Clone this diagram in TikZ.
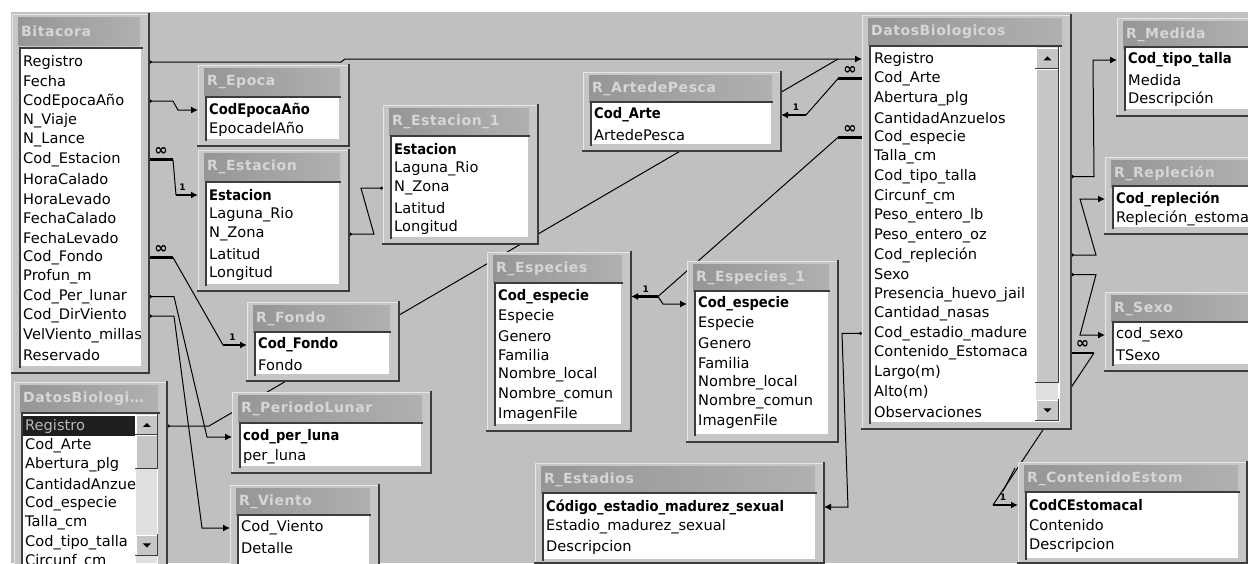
\documentclass[tikz,border=0pt]{standalone}
\usepackage{fontspec}
\setmainfont{DejaVu Sans}
\newfontfamily\titlefont[LetterSpace=4]{DejaVu Sans}
\usepackage{graphicx}
\usetikzlibrary{arrows.meta,calc}

\pgfdeclarelayer{canvaslayer}
\pgfdeclarelayer{wires}
\pgfsetlayers{canvaslayer,wires,main}

\definecolor{bggray}{HTML}{C0C0C0}
\definecolor{framegray}{HTML}{C6C6C6}
\definecolor{frameedge}{HTML}{E6E6E6}
\definecolor{shadowgray}{HTML}{3C3C3C}
\definecolor{titledark}{HTML}{969696}
\definecolor{titlelight}{HTML}{B0B0B0}
\definecolor{titleink}{HTML}{D6D6D6}
\definecolor{trackgray}{HTML}{E0E0E0}
\definecolor{hilite}{HTML}{B8B8B8}

\newcommand{\keyf}[1]{\scalebox{0.9}[1]{\bfseries #1}}

\tikzset{
  shadowline/.style={draw=shadowgray, line width=2.2pt, line cap=rect},
  insetline/.style={draw=shadowgray, line width=1.6pt, line cap=rect},
  btnshadow/.style={draw=shadowgray, line width=1.2pt, line cap=rect},
  tablebox/.style={anchor=north west, inner sep=0pt, fill=framegray, draw=frameedge, line width=1pt,
    append after command={(\tikzlastnode.north east) edge[shadowline] (\tikzlastnode.south east)
                          (\tikzlastnode.south east) edge[shadowline] (\tikzlastnode.south west)}},
  titlebar/.style={anchor=north west, inner xsep=3pt, inner ysep=0pt, minimum height=27pt,
    left color=titledark, right color=titlelight, text=titleink, align=left,
    font=\titlefont\bfseries\fontsize{14}{14}\selectfont},
  listbox/.style={anchor=north west, inner sep=0pt, fill=white, draw=gray!45, line width=0.8pt,
    append after command={(\tikzlastnode.south west) edge[insetline] (\tikzlastnode.north west)
                          (\tikzlastnode.north west) edge[insetline] (\tikzlastnode.north east)}},
  scrollbtn/.style={anchor=north west, inner sep=0pt, fill=framegray, draw=white, line width=0.8pt,
    append after command={(\tikzlastnode.north east) edge[btnshadow] (\tikzlastnode.south east)
                          (\tikzlastnode.south east) edge[btnshadow] (\tikzlastnode.south west)}},
  field/.style={anchor=west, inner sep=0pt, font=\fontsize{14.6}{15}\selectfont},
  rel/.style={draw=black, line width=1pt},
  stub/.style={draw=black, line width=2.6pt},
  arrowend/.style={-{Latex[length=7pt,width=7pt]}},
  dotarrow/.style={{Circle[length=3pt]}-{Latex[length=7pt,width=7pt]}},
  dotdot/.style={{Circle[length=3pt]}-{Circle[length=3pt]}},
  dotend/.style={{Circle[length=3pt]}-},
  manylabel/.style={font=\bfseries\fontsize{16}{16}\selectfont, inner sep=0pt, above=3pt},
  onelabel/.style={font=\bfseries\fontsize{9}{9}\selectfont, inner sep=0pt, above=3pt},
}

\begin{document}
\begin{tikzpicture}[x=1pt,y=-1pt]
\useasboundingbox (0,0) rectangle (1248,563);
\begin{pgfonlayer}{canvaslayer}
  \fill[white] (0,0) rectangle (1248,563);
  \fill[bggray] (11,12) rectangle (1248,563);
\end{pgfonlayer}

% Bitacora
\node[tablebox, minimum width=136pt, minimum height=358pt] (bitacora) at (12,14) {};
\node[titlebar, text width=116pt, minimum height=28pt] at (18,17) {Bitacora};
\node[listbox, minimum width=121pt, minimum height=318pt] (bitacoraL) at (20,48) {};
\begin{scope}
  \clip (bitacoraL.north west) rectangle (bitacoraL.south east);
  \foreach \f [count=\i] in {Registro,Fecha,CodEpocaAño,N\_Viaje,N\_Lance,Cod\_Estacion,HoraCalado,HoraLevado,FechaCalado,FechaLevado,Cod\_Fondo,Profun\_m,Cod\_Per\_lunar,Cod\_DirViento,VelViento\_millas,Reservado}
    \node[field] (bit\i) at (23,{62+19.55*(\i-1)}) {\f};
\end{scope}

% R_Epoca
\node[tablebox, minimum width=150pt, minimum height=80pt] (epoca) at (198,65) {};
\node[titlebar, text width=130pt] at (204,68) {R\_Epoca};
\node[listbox, minimum width=133pt, minimum height=42pt] (epocaL) at (206,97) {};
\begin{scope}
  \clip (epocaL.north west) rectangle (epocaL.south east);
  \foreach \f [count=\i] in {\keyf{CodEpocaAño},EpocadelAño}
    \node[field] (epo\i) at (209,{110+19.6*(\i-1)}) {\f};
\end{scope}

% R_Estacion
\node[tablebox, minimum width=150pt, minimum height=140pt] (estacion) at (198,150) {};
\node[titlebar, text width=130pt] at (204,153) {R\_Estacion};
\node[listbox, minimum width=133pt, minimum height=102pt] (estacionL) at (206,182) {};
\begin{scope}
  \clip (estacionL.north west) rectangle (estacionL.south east);
  \foreach \f [count=\i] in {\keyf{Estacion},Laguna\_Rio,N\_Zona,Latitud,Longitud}
    \node[field] (est\i) at (209,{195+19.6*(\i-1)}) {\f};
\end{scope}

% R_Estacion_1
\node[tablebox, minimum width=154pt, minimum height=138pt] (estacionB) at (383,105) {};
\node[titlebar, text width=134pt] at (389,108) {R\_Estacion\_1};
\node[listbox, minimum width=137pt, minimum height=101pt] (estacionBL) at (391,136) {};
\begin{scope}
  \clip (estacionBL.north west) rectangle (estacionBL.south east);
  \foreach \f [count=\i] in {\keyf{Estacion},Laguna\_Rio,N\_Zona,Latitud,Longitud}
    \node[field] (estb\i) at (394,{149+19.6*(\i-1)}) {\f};
\end{scope}

% R_ArtedePesca
\node[tablebox, minimum width=197pt, minimum height=78pt] (arte) at (583,72) {};
\node[titlebar, text width=177pt] at (589,75) {R\_ArtedePesca};
\node[listbox, minimum width=180pt, minimum height=42pt] (arteL) at (591,102) {};
\begin{scope}
  \clip (arteL.north west) rectangle (arteL.south east);
  \foreach \f [count=\i] in {\keyf{Cod\_Arte},ArtedePesca}
    \node[field] (art\i) at (594,{115+19.6*(\i-1)}) {\f};
\end{scope}

% R_Fondo
\node[tablebox, minimum width=151pt, minimum height=78pt] (fondo) at (247,302) {};
\node[titlebar, text width=131pt] at (253,305) {R\_Fondo};
\node[listbox, minimum width=134pt, minimum height=42pt] (fondoL) at (255,332) {};
\begin{scope}
  \clip (fondoL.north west) rectangle (fondoL.south east);
  \foreach \f [count=\i] in {\keyf{Cod\_Fondo},Fondo}
    \node[field] (fon\i) at (258,{345+19.6*(\i-1)}) {\f};
\end{scope}

% R_PeriodoLunar
\node[tablebox, minimum width=198pt, minimum height=80pt] (lunar) at (232,392) {};
\node[titlebar, text width=178pt] at (238,395) {R\_PeriodoLunar};
\node[listbox, minimum width=181pt, minimum height=43pt] (lunarL) at (240,423) {};
\begin{scope}
  \clip (lunarL.north west) rectangle (lunarL.south east);
  \foreach \f [count=\i] in {\keyf{cod\_per\_luna},per\_luna}
    \node[field] (lun\i) at (243,{437+19.6*(\i-1)}) {\f};
\end{scope}

% R_Viento
\node[tablebox, minimum width=148pt, minimum height=85pt] (viento) at (230,485) {};
\node[titlebar, text width=128pt] at (236,488) {R\_Viento};
\node[listbox, minimum width=131pt, minimum height=50pt] (vientoL) at (238,515) {};
\begin{scope}
  \clip (vientoL.north west) rectangle (vientoL.south east);
  \foreach \f [count=\i] in {Cod\_Viento,Detalle}
    \node[field] (vie\i) at (241,{528+19.6*(\i-1)}) {\f};
\end{scope}

% DatosBiologicos_1 (small copy)
\node[tablebox, minimum width=152pt, minimum height=190pt] (datosB) at (14,382) {};
\node[titlebar, text width=132pt] at (20,385) {DatosBiologi…};
\node[listbox, minimum width=136pt, minimum height=155pt] (datosBL) at (22,413) {};
\fill[black!88] (23,416) rectangle (135,436);
\begin{scope}
  \clip (datosBL.north west) rectangle (datosBL.south east);
  \foreach \f [count=\i] in {\textcolor{hilite}{Registro},Cod\_Arte,Abertura\_plg,CantidadAnzuelos,Cod\_especie,Talla\_cm,Cod\_tipo\_talla,Circunf\_cm}
    \node[field] (dbs\i) at (25,{426+19.4*(\i-1)}) {\f};
\end{scope}
\fill[trackgray] (136,414) rectangle (157,563);
\node[scrollbtn, minimum width=21pt, minimum height=19pt] (dbsUp) at (136,415) {};
\node[scrollbtn, minimum width=21pt, minimum height=33pt] (dbsThumb) at (136,435) {};
\node[scrollbtn, minimum width=21pt, minimum height=20pt] (dbsDown) at (136,535) {};
\fill (dbsUp.center) ++(-4,2) -- ++(8,0) -- ++(-4,-4) -- cycle;
\fill (dbsDown.center) ++(-4,-2) -- ++(8,0) -- ++(-4,4) -- cycle;

% R_Especies
\node[tablebox, minimum width=143pt, minimum height=178pt] (especies) at (487,252) {};
\node[titlebar, text width=123pt] at (493,255) {R\_Especies};
\node[listbox, minimum width=126pt, minimum height=141pt] (especiesL) at (495,283) {};
\begin{scope}
  \clip (especiesL.north west) rectangle (especiesL.south east);
  \foreach \f [count=\i] in {\keyf{Cod\_especie},Especie,Genero,Familia,Nombre\_local,Nombre\_comun,ImagenFile}
    \node[field] (esp\i) at (498,{296.5+19.6*(\i-1)}) {\f};
\end{scope}

% R_Especies_1
\node[tablebox, minimum width=150pt, minimum height=180pt] (especiesB) at (687,261) {};
\node[titlebar, text width=130pt] at (693,264) {R\_Especies\_1};
\node[listbox, minimum width=133pt, minimum height=143pt] (especiesBL) at (695,291) {};
\begin{scope}
  \clip (especiesBL.north west) rectangle (especiesBL.south east);
  \foreach \f [count=\i] in {\keyf{Cod\_especie},Especie,Genero,Familia,Nombre\_local,Nombre\_comun,ImagenFile}
    \node[field] (espb\i) at (698,{304+19.6*(\i-1)}) {\f};
\end{scope}

% R_Estadios
\node[tablebox, minimum width=288pt, minimum height=99pt] (estadios) at (535,463) {};
\node[titlebar, text width=268pt] at (541,466) {R\_Estadios};
\node[listbox, minimum width=272pt, minimum height=66pt] (estadiosL) at (543,493) {};
\begin{scope}
  \clip (estadiosL.north west) rectangle (estadiosL.south east);
  \foreach \f [count=\i] in {\keyf{Código\_estadio\_madurez\_sexual},Estadio\_madurez\_sexual,Descripcion}
    \node[field] (eta\i) at (546,{507+20*(\i-1)}) {\f};
\end{scope}

% DatosBiologicos
\node[tablebox, minimum width=208pt, minimum height=413pt] (datos) at (862,15) {};
\node[titlebar, text width=188pt] at (868,18) {DatosBiologicos};
\node[listbox, minimum width=190pt, minimum height=376pt] (datosL) at (870,46) {};
\begin{scope}
  \clip (datosL.north west) rectangle (datosL.south east);
  \foreach \f [count=\i] in {Registro,Cod\_Arte,Abertura\_plg,CantidadAnzuelos,Cod\_especie,Talla\_cm,Cod\_tipo\_talla,Circunf\_cm,Peso\_entero\_lb,Peso\_entero\_oz,Cod\_repleción,Sexo,Presencia\_huevo\_jail,Cantidad\_nasas,Cod\_estadio\_madure,Contenido\_Estomaca,Largo(m),Alto(m),Observaciones}
    \node[field] (dat\i) at (874,{59+19.6*(\i-1)}) {\f};
\end{scope}
\fill[trackgray] (1036,47) rectangle (1058,421);
\node[scrollbtn, minimum width=22pt, minimum height=20pt] (datUp) at (1036,48) {};
\node[scrollbtn, minimum width=22pt, minimum height=313pt] (datThumb) at (1036,69) {};
\node[scrollbtn, minimum width=22pt, minimum height=20pt] (datDown) at (1036,400) {};
\fill (datUp.center) ++(-4,2) -- ++(8,0) -- ++(-4,-4) -- cycle;
\fill (datDown.center) ++(-4,-2) -- ++(8,0) -- ++(-4,4) -- cycle;

% R_Medida
\node[tablebox, minimum width=143pt, minimum height=97pt] (medida) at (1117,18) {};
\node[titlebar, text width=123pt] at (1123,21) {R\_Medida};
\node[listbox, minimum width=126pt, minimum height=62pt] (medidaL) at (1125,47) {};
\begin{scope}
  \clip (medidaL.north west) rectangle (medidaL.south east);
  \foreach \f [count=\i] in {\keyf{Cod\_tipo\_talla},Medida,Descripción}
    \node[field] (med\i) at (1128,{60+19.6*(\i-1)}) {\f};
\end{scope}

% R_Replecion
\node[tablebox, minimum width=155pt, minimum height=76pt] (replecion) at (1105,157) {};
\node[titlebar, text width=135pt] at (1111,160) {R\_Repleción};
\node[listbox, minimum width=138pt, minimum height=41pt] (replecionL) at (1113,186) {};
\begin{scope}
  \clip (replecionL.north west) rectangle (replecionL.south east);
  \foreach \f [count=\i] in {\keyf{Cod\_repleción},Repleción\_estoma}
    \node[field] (rep\i) at (1116,{199+19.5*(\i-1)}) {\f};
\end{scope}

% R_Sexo
\node[tablebox, minimum width=155pt, minimum height=78pt] (sexo) at (1105,292) {};
\node[titlebar, text width=135pt] at (1111,295) {R\_Sexo};
\node[listbox, minimum width=138pt, minimum height=42pt] (sexoL) at (1113,322) {};
\begin{scope}
  \clip (sexoL.north west) rectangle (sexoL.south east);
  \foreach \f [count=\i] in {cod\_sexo,TSexo}
    \node[field] (sex\i) at (1116,{335+20*(\i-1)}) {\f};
\end{scope}

% R_ContenidoEstom
\node[tablebox, minimum width=228pt, minimum height=100pt] (contenido) at (1018,462) {};
\node[titlebar, text width=208pt] at (1024,465) {R\_ContenidoEstom};
\node[listbox, minimum width=212pt, minimum height=66pt] (contenidoL) at (1026,492) {};
\begin{scope}
  \clip (contenidoL.north west) rectangle (contenidoL.south east);
  \foreach \f [count=\i] in {\keyf{CodCEstomacal},Contenido,Descripcion}
    \node[field] (con\i) at (1029,{505+20*(\i-1)}) {\f};
\end{scope}

% relationships, behind the tables
\begin{pgfonlayer}{wires}
\draw[rel, dotarrow] (bit1 -| bitacora.east) -- ++(192,0) -- ++(4,-3) -- (dat1 -| datos.west);
\draw[rel, dotend] (dbs1 -| datosB.east) -- ++(42,0) -- ($(dat1 -| datos.west)+(-24,0)$);
\draw[rel, dotarrow] (bit3 -| bitacora.east) -- ++(24,0) -- ++(5,9) -- (epo1 -| epoca.west);

\draw[stub] (bit6 -| bitacora.east) -- ++(24,0) node[midway, manylabel] {∞} coordinate (estA);
\draw[stub, arrowend] ($(est1 -| estacion.west)+(-22,0)$) coordinate (estB) -- (est1 -| estacion.west) node[pos=0.3, onelabel] {1};
\draw[rel] (estA) -- (estB);

\draw[stub] (bit11 -| bitacora.east) -- ++(24,0) node[midway, manylabel] {∞} coordinate (fonA);
\draw[stub, arrowend] ($(fon1 -| fondo.west)+(-24,0)$) coordinate (fonB) -- (fon1 -| fondo.west) node[pos=0.4, onelabel] {1};
\draw[rel] (fonA) -- (fonB);

\draw[rel, dotarrow] (bit13 -| bitacora.east) -- ++(25,0) -- ($(lun1 -| lunar.west)+(-25,0)$) -- (lun1 -| lunar.west);
\draw[rel, dotarrow] (bit14 -| bitacora.east) -- ++(25,0) -- ($(vie1 -| viento.west)+(-28,0)$) -- (vie1 -| viento.west);
\draw[rel, dotdot] (est3 -| estacion.east) -- ++(25,0) -- ($(estb3 -| estacionB.west)+(-22,0)$) -- (estb3 -| estacionB.west);

\draw[stub] (dat2 -| datos.west) -- ++(-24,0) node[midway, manylabel] {∞} coordinate (artA);
\draw[stub, arrowend] ($(art1 -| arte.east)+(25,0)$) coordinate (artB) -- (art1 -| arte.east) node[pos=0.4, onelabel] {1};
\draw[rel] (artA) -- (artB);

\draw[stub] (dat5 -| datos.west) -- ++(-24,0) node[midway, manylabel] {∞} coordinate (espA);
\draw[stub, arrowend] ($(esp1 -| especies.east)+(27,0)$) coordinate (espB) -- (esp1 -| especies.east) node[pos=0.45, onelabel] {1};
\draw[rel] (espA) -- (espB);
\draw[rel, arrowend] (espB) -- ++(5,7.5) -- (espb1 -| especiesB.west);

\draw[rel, dotarrow] (dat15 -| datos.west) -- ++(-20,0) -- ($(eta1 -| estadios.east)+(24,0)$) -- (eta1 -| estadios.east);
\draw[rel, dotarrow] (dat7 -| datos.east) -- ++(23,0) -- ($(med1 -| medida.west)+(-24,0)$) -- (med1 -| medida.west);
\draw[rel, dotarrow] (dat11 -| datos.east) -- ++(25,0) -- ($(rep1 -| replecion.west)+(-25,0)$) -- (rep1 -| replecion.west);
\draw[rel, dotarrow] (dat12 -| datos.east) -- ++(25,0) -- ($(sex1 -| sexo.west)+(-25,0)$) -- (sex1 -| sexo.west);

\draw[stub] (dat16 -| datos.east) -- ++(23,0) node[midway, manylabel] {∞} coordinate (conA);
\draw[stub, arrowend] ($(con1 -| contenido.west)+(-25,0)$) coordinate (conB) -- (con1 -| contenido.west) node[pos=0.4, onelabel] {1};
\draw[rel] (conA) -- (conB);
\draw[rel] ($(conB)+(10,-14)$) -- ($(conB)+(22,-37)$);
\end{pgfonlayer}

\end{tikzpicture}
\end{document}
